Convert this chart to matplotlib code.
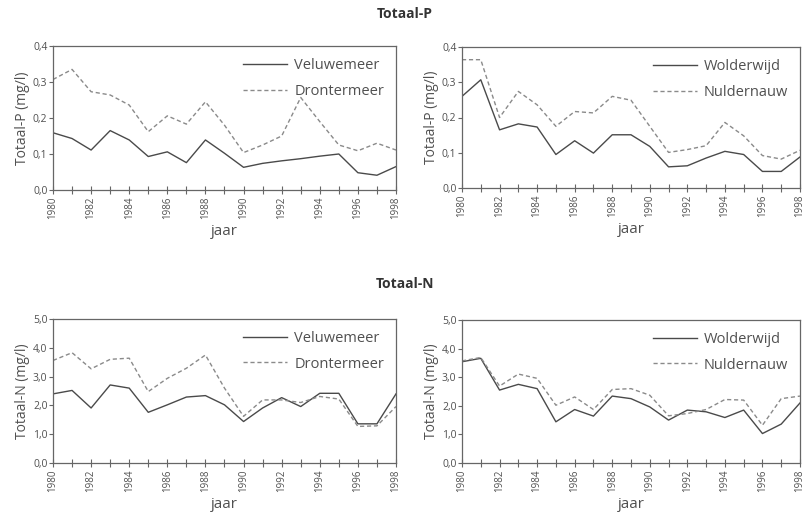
import matplotlib
matplotlib.use("Agg")
import matplotlib.pyplot as plt
from matplotlib.ticker import FuncFormatter, MultipleLocator

plt.rcParams['font.family'] = ['Open Sans', 'DejaVu Sans']

years = list(range(1980, 1999))

p_veluwemeer = [0.159, 0.143, 0.111, 0.165, 0.139, 0.093, 0.106, 0.076, 0.139, 0.102,
                0.063, 0.074, 0.081, 0.087, 0.094, 0.100, 0.048, 0.041, 0.065]
p_drontermeer = [0.307, 0.335, 0.273, 0.264, 0.236, 0.162, 0.206, 0.183, 0.245, 0.180,
                 0.104, 0.125, 0.150, 0.257, 0.190, 0.125, 0.109, 0.130, 0.111]
p_wolderwijd = [0.260, 0.307, 0.165, 0.182, 0.173, 0.095, 0.134, 0.099, 0.151, 0.151,
                0.118, 0.060, 0.063, 0.085, 0.104, 0.095, 0.047, 0.047, 0.088]
p_nuldernauw = [0.364, 0.364, 0.200, 0.274, 0.236, 0.175, 0.217, 0.213, 0.260, 0.249,
                0.175, 0.101, 0.109, 0.120, 0.186, 0.148, 0.092, 0.082, 0.107]

n_veluwemeer = [2.40, 2.52, 1.91, 2.71, 2.60, 1.76, 2.02, 2.29, 2.34, 2.02,
                1.44, 1.91, 2.27, 1.96, 2.42, 2.42, 1.36, 1.36, 2.40]
n_drontermeer = [3.56, 3.83, 3.27, 3.60, 3.64, 2.48, 2.94, 3.29, 3.75, 2.60,
                 1.62, 2.19, 2.19, 2.10, 2.31, 2.22, 1.27, 1.29, 1.96]
n_wolderwijd = [3.54, 3.66, 2.55, 2.75, 2.60, 1.44, 1.87, 1.64, 2.34, 2.25,
                1.96, 1.50, 1.85, 1.79, 1.59, 1.85, 1.03, 1.36, 2.10]
n_nuldernauw = [3.57, 3.69, 2.69, 3.11, 2.96, 2.02, 2.31, 1.87, 2.57, 2.60,
                2.37, 1.65, 1.73, 1.87, 2.22, 2.20, 1.32, 2.25, 2.34]

W, H = 811, 520
fig = plt.figure(figsize=(W / 100, H / 100), dpi=100)

txt = '#505050'
solid_c = '#4a4a4a'
dash_c = '#8a8a8a'
spine_c = '#666666'


def px_axes(l, t, r, b):
    return fig.add_axes([l / W, 1 - b / H, (r - l) / W, (b - t) / H])


def panel(ax, s1, s2, n1, n2, ymax, ystep, ylabel):
    ax.plot(years, s1, color=solid_c, lw=1.0, label=n1)
    ax.plot(years, s2, color=dash_c, lw=1.0, ls=(0, (3, 2)), label=n2)
    ax.set_xlim(1980, 1998)
    ax.set_ylim(0, ymax)
    ax.xaxis.set_major_locator(MultipleLocator(2))
    ax.xaxis.set_minor_locator(MultipleLocator(1))
    ax.yaxis.set_major_locator(MultipleLocator(ystep))
    ax.yaxis.set_major_formatter(FuncFormatter(lambda v, p: f"{v:.1f}".replace('.', ',')))
    ax.tick_params(axis='x', which='both', direction='inout', length=6, width=0.8,
                   colors=spine_c, labelcolor=txt, labelsize=7, labelrotation=90, pad=2)
    ax.tick_params(axis='y', which='both', direction='out', length=3, width=0.8,
                   colors=spine_c, labelcolor=txt, labelsize=7.5, pad=1)
    for s in ax.spines.values():
        s.set_color(spine_c)
        s.set_linewidth(0.9)
    ax.set_xlabel('jaar', color=txt, fontsize=11, labelpad=3)
    ax.set_ylabel(ylabel, color=txt, fontsize=10, labelpad=2)
    leg = ax.legend(loc='upper right', frameon=False, fontsize=10.5, handlelength=3.0,
                    handletextpad=0.5, labelspacing=0.75, borderaxespad=0.4)
    for t in leg.get_texts():
        t.set_color(txt)


ax1 = px_axes(53, 46, 396, 190)
panel(ax1, p_veluwemeer, p_drontermeer, 'Veluwemeer', 'Drontermeer', 0.4, 0.1, 'Totaal-P (mg/l)')
ax2 = px_axes(462, 47, 800, 188)
panel(ax2, p_wolderwijd, p_nuldernauw, 'Wolderwijd', 'Nuldernauw', 0.4, 0.1, 'Totaal-P (mg/l)')
ax3 = px_axes(53, 319, 396, 463)
panel(ax3, n_veluwemeer, n_drontermeer, 'Veluwemeer', 'Drontermeer', 5.0, 1.0, 'Totaal-N (mg/l)')
ax4 = px_axes(462, 320, 800, 463)
panel(ax4, n_wolderwijd, n_nuldernauw, 'Wolderwijd', 'Nuldernauw', 5.0, 1.0, 'Totaal-N (mg/l)')

fig.text(405 / W, 1 - 14 / H, 'Totaal-P', ha='center', va='center', fontsize=10,
         fontweight='bold', color='#333333')
fig.text(405 / W, 1 - 284 / H, 'Totaal-N', ha='center', va='center', fontsize=10,
         fontweight='bold', color='#333333')

fig.savefig('out.png', dpi=100)
